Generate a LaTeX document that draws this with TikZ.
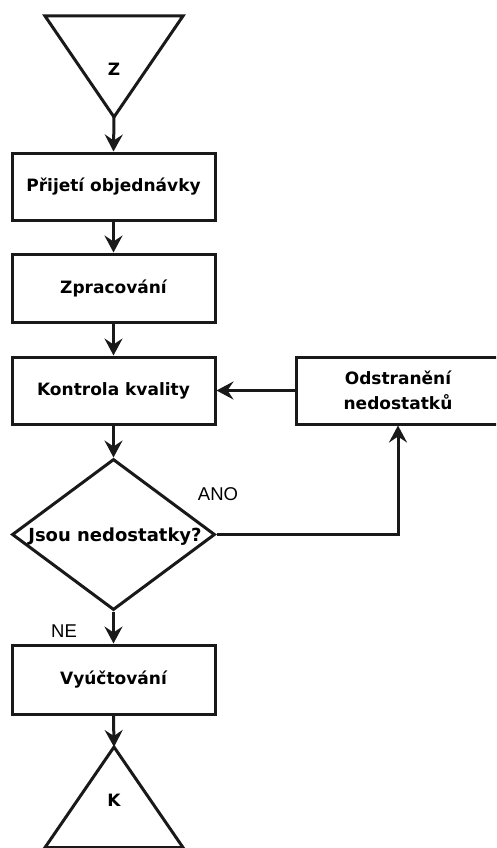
\documentclass[tikz,border=0pt]{standalone}
\usepackage{fontspec}
\setmainfont{DejaVu Sans}
\newfontfamily\labelfont{Liberation Sans}
\usetikzlibrary{arrows.meta,shapes.geometric}

\begin{document}
\begin{tikzpicture}[x=1pt,y=-1pt,
  boxtext/.style={font=\bfseries\fontsize{17}{25}\selectfont, align=center, inner sep=0pt},
  stepbox/.style={draw=black!90, line width=3pt, rectangle, minimum width=203pt,
                  minimum height=67pt, inner sep=0pt, boxtext},
  shapeline/.style={draw=black!90, line width=3pt, line join=miter},
  arr/.style={draw=black!90, line width=3pt, -{Stealth[length=17pt,width=18pt,inset=6pt]}},
  branch/.style={font=\labelfont\fontsize{18.5}{22}\selectfont, inner sep=0pt},
]
\useasboundingbox (0,0) rectangle (496,848);
\clip (0,0) rectangle (496,848);

% start terminator
\draw[shapeline] (45,16) -- (183,16) -- (114,117) -- cycle;
\coordinate (zapex) at (114,117);
\node[boxtext] (z) at (114,69) {Z};

% process steps
\node[stepbox] (prijeti) at (113.5,186.5) {Přijetí objednávky};
\node[stepbox, minimum height=68pt] (zprac) at (113.5,288) {Zpracování};
\node[stepbox] (kontrola) at (113.5,390.5) {Kontrola kvality};
\node[stepbox, minimum width=204pt] (odstr) at (398,390.5) {Odstranění\\nedostatků};

% decision
\node[shapeline, diamond, minimum width=203pt, minimum height=151pt, inner sep=0pt] (dec) at (113.5,534.5) {};
\node[boxtext, font=\bfseries\fontsize{18}{22}\selectfont] (dectext) at (115,537) {Jsou nedostatky?};

\node[stepbox, minimum height=69pt] (vyuct) at (113.5,679.5) {Vyúčtování};

% end terminator
\draw[shapeline] (114,747) -- (183,847.5) -- (45,847.5) -- cycle;
\coordinate (kapex) at (114,747);
\node[boxtext] (k) at (114,800) {K};

% connectors
\draw[arr] (zapex) -- (prijeti.north);
\draw[arr] (prijeti.south) -- (zprac.north);
\draw[arr] (zprac.south) -- (kontrola.north);
\draw[arr] (kontrola.south) -- (dec.north);
\draw[arr] (odstr.west) -- (kontrola.east);
\draw[arr] (dec.east) -| (odstr.south);
\draw[arr] (dec.south) -- (vyuct.north);
\draw[arr] (vyuct.south) -- (kapex);

% branch labels
\node[branch] (ano) at (218,494) {ANO};
\node[branch] (ne) at (64,631) {NE};
\end{tikzpicture}
\end{document}
